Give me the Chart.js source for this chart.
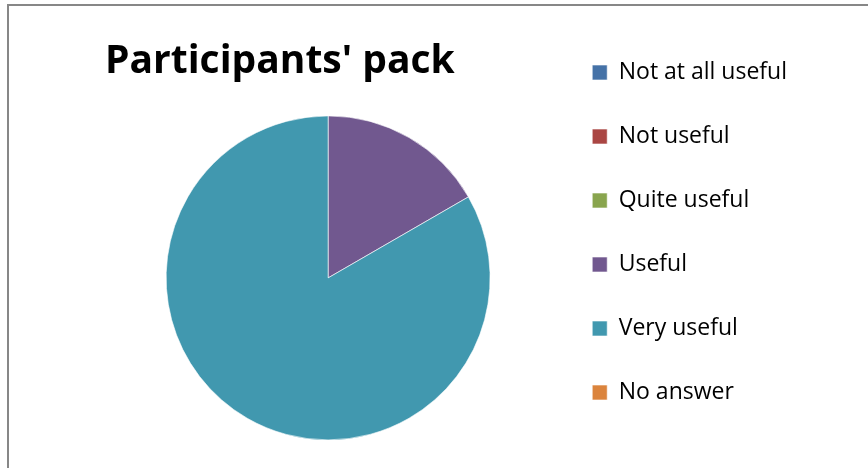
<!DOCTYPE html>
<html>
<head>
<meta charset="utf-8">
<script src="https://cdn.jsdelivr.net/npm/chart.js@4"></script>
<style>
  html, body { margin: 0; padding: 0; background: #fff; }
  #wrap { position: relative; width: 868px; height: 468px; overflow: hidden; }
  #frame {
    position: absolute; left: 7px; top: 4px; width: 900px; height: 500px;
    border-left: 2px solid #878787; border-top: 2px solid #878787;
  }
  #box { position: absolute; left: 0; top: 0; width: 868px; height: 468px; }
</style>
</head>
<body>
<div id="wrap">
  <div id="frame"></div>
  <div id="box"><canvas id="chart"></canvas></div>
</div>
<script>
  // ---- Data ----
  const chartTitle = "Participants' pack";
  const categories = ['Not at all useful', 'Not useful', 'Quite useful', 'Useful', 'Very useful', 'No answer'];
  const answers = [0, 0, 0, 1, 5, 0];
  const sliceColors = ['#4572A7', '#AA4643', '#89A54E', '#71588F', '#4198AF', '#DB843D'];

  const font = "'Open Sans', 'Noto Sans', sans-serif";

  new Chart(document.getElementById('chart'), {
    type: 'pie',
    data: {
      labels: categories,
      datasets: [{
        data: answers,
        backgroundColor: sliceColors,
        borderColor: 'rgba(255,255,255,0.6)',
        borderWidth: 1,
        radius: 162
      }]
    },
    options: {
      responsive: true,
      maintainAspectRatio: false,
      animation: false,
      layout: { padding: { left: 105, right: 71, top: 0, bottom: 0 } },
      plugins: {
        tooltip: { enabled: false },
        title: {
          display: true,
          text: chartTitle,
          align: 'start',
          fullSize: false,
          color: '#000',
          font: { family: font, size: 39, weight: 'bold', lineHeight: 1.2 },
          padding: { top: 38, bottom: 3 }
        },
        legend: {
          display: true,
          position: 'right',
          align: 'start',
          title: { display: true, text: ' ', font: { size: 20, lineHeight: 1 }, padding: 0 },
          labels: {
            color: '#000',
            boxWidth: 15,
            boxHeight: 15,
            padding: 41,
            font: { family: font, size: 23 }
          }
        }
      }
    }
  });
</script>
</body>
</html>
